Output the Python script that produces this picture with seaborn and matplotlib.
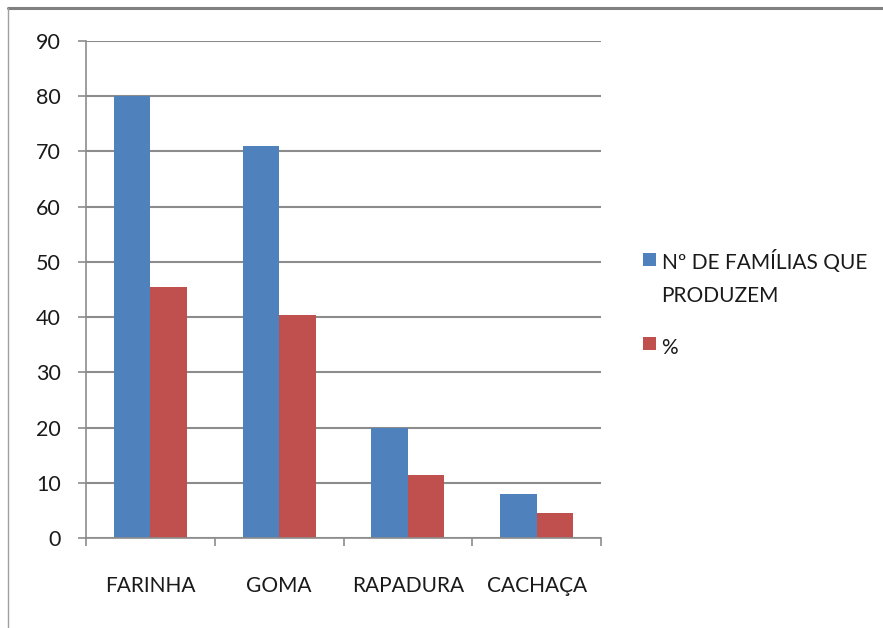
import matplotlib
matplotlib.use("Agg")
import matplotlib.pyplot as plt
from matplotlib.patches import Rectangle
from matplotlib.lines import Line2D
import seaborn as sns
import pandas as pd

# Data
categories = ["FARINHA", "GOMA", "RAPADURA", "CACHAÇA"]
familias = [80, 71, 20, 8]
percentual = [45.45, 40.34, 11.36, 4.55]
series_names = ["Nº DE FAMÍLIAS QUE PRODUZEM", "%"]
legend_lines = [["Nº DE FAMÍLIAS QUE", "PRODUZEM"], ["%"]]
yticks = [0, 10, 20, 30, 40, 50, 60, 70, 80, 90]

colors = ["#4F81BD", "#C0504D"]
grid_color = "#8C8C8C"
text_color = "#1a1a1a"

df = pd.DataFrame({
    "produto": categories * 2,
    "valor": familias + percentual,
    "serie": [series_names[0]] * len(categories) + [series_names[1]] * len(categories),
})

sns.set_theme(style="white")
plt.rcParams["font.family"] = ["Lato", "DejaVu Sans"]

W, H = 883, 628
fig = plt.figure(figsize=(W / 100, H / 100), dpi=100)
fig.patch.set_facecolor("white")
ax = fig.add_axes([86 / W, 90 / H, (601 - 86) / W, (538 - 41) / H])

sns.barplot(data=df, x="produto", y="valor", hue="serie", order=categories,
            hue_order=series_names, palette=colors, width=0.566, gap=0,
            saturation=1, ax=ax, legend=False, edgecolor="none")

ax.set_xlim(-0.5, len(categories) - 0.5)
ax.set_ylim(0, 90)
ax.set_yticks(yticks)
ax.set_xlabel("")
ax.set_ylabel("")

# Horizontal gridlines
ax.yaxis.grid(True, color=grid_color, linewidth=1.5)
ax.xaxis.grid(False)
ax.set_axisbelow(True)

for side in ["top", "right"]:
    ax.spines[side].set_visible(False)
for side in ["left", "bottom"]:
    ax.spines[side].set_color(grid_color)
    ax.spines[side].set_linewidth(1.2)

# Category boundary ticks on the x axis, labels at centres
ax.set_xticks([i - 0.5 for i in range(len(categories) + 1)], minor=True)
ax.tick_params(axis="x", which="minor", length=6, color=grid_color, width=1.2, direction="out")
ax.tick_params(axis="x", which="major", length=0, pad=27, labelsize=15, labelcolor=text_color)
ax.tick_params(axis="y", which="major", length=6, color=grid_color, width=1.2,
               direction="out", pad=12, labelsize=15.5, labelcolor=text_color)
ax.tick_params(left=True, bottom=True, which="both")

# Legend: colour swatch beside the first line of each entry
swatch_tops = [253, 337]
baselines = [[268.5, 302], [353.5]]
legend_texts = []
for color, top, lines, bls in zip(colors, swatch_tops, legend_lines, baselines):
    fig.add_artist(Rectangle((643 / W, 1 - (top + 13) / H), 13 / W, 13 / H,
                             transform=fig.transFigure, facecolor=color, edgecolor="none"))
    for line, bl in zip(lines, bls):
        legend_texts.append(fig.text(661.5 / W, 1 - bl / H, line, fontsize=17,
                                     color=text_color, ha="left", va="baseline"))

# Fit the longest legend line to the space beside the plot
renderer = fig.canvas.get_renderer()
widest = max(t.get_window_extent(renderer).width for t in legend_texts)
size = 17 * 206 / widest
for t in legend_texts:
    t.set_fontsize(size)

# Outer chart frame
fig.add_artist(Line2D([8 / W, 1], [1 - 7.5 / H] * 2, transform=fig.transFigure,
                      color="#808080", linewidth=2.2))
fig.add_artist(Line2D([8 / W] * 2, [0, 1 - 7.5 / H], transform=fig.transFigure,
                      color="#A0A0A0", linewidth=1.0))

fig.savefig("out.png", dpi=100, facecolor="white")
